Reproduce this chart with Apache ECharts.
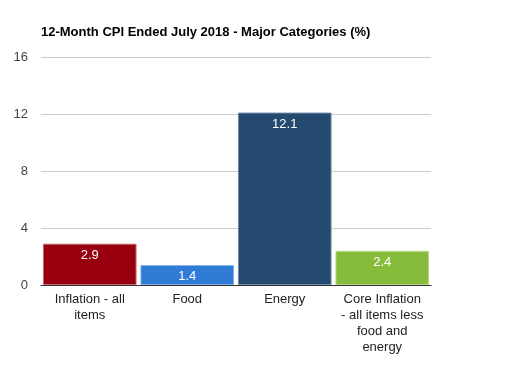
<!DOCTYPE html>
<html><head><meta charset="utf-8">
<script src="https://cdn.jsdelivr.net/npm/echarts@6/dist/echarts.min.js"></script>
<style>html,body{margin:0;padding:0;background:#fff}#c{width:517px;height:379px}</style>
</head><body><div id="c"></div>
<script>
const categories = ["Inflation - all\nitems", "Food", "Energy", "Core Inflation\n- all items less\nfood and\nenergy"];
const values = [2.9, 1.4, 12.1, 2.4];
const colors = ["#98000f", "#2f7bd6", "#244a6f", "#86bb3b"];
const borders = ["#c46a72", "#7fb0ea", "#6f8aa8", "#b8d98c"];
const yTicks = [0, 4, 8, 12, 16];

const chart = echarts.init(document.getElementById('c'), null, {renderer: 'canvas'});
chart.setOption({
  animation: false,
  title: {
    text: "12-Month CPI Ended July 2018 - Major Categories (%)",
    left: 36, top: 21,
    textStyle: {fontFamily: 'Arial, Liberation Sans', fontSize: 13, fontWeight: 'bold', color: '#000'}
  },
  grid: {left: 41, right: 86, top: 57, bottom: 94, containLabel: false},
  xAxis: {
    type: 'category', data: categories,
    axisTick: {show: false},
    axisLine: {lineStyle: {color: '#333', width: 1}},
    axisLabel: {interval: 0, color: '#222', fontSize: 13, fontFamily: 'Arial, Liberation Sans', lineHeight: 16, margin: 6}
  },
  yAxis: {
    type: 'value', min: yTicks[0], max: yTicks[yTicks.length-1], interval: 4,
    axisLine: {show: false}, axisTick: {show: false},
    splitLine: {lineStyle: {color: '#ccc'}},
    axisLabel: {color: '#444', fontSize: 13, fontFamily: 'Arial, Liberation Sans', margin: 13}
  },
  series: [{
    type: 'bar',
    barCategoryGap: '4%',
    data: values.map((v, i) => ({value: v, itemStyle: {color: colors[i], borderColor: borders[i], borderWidth: 1}})),
    label: {show: true, position: 'insideTop', distance: 5, color: '#fff', fontSize: 13, fontFamily: 'Arial, Liberation Sans'}
  }]
});
</script></body></html>
